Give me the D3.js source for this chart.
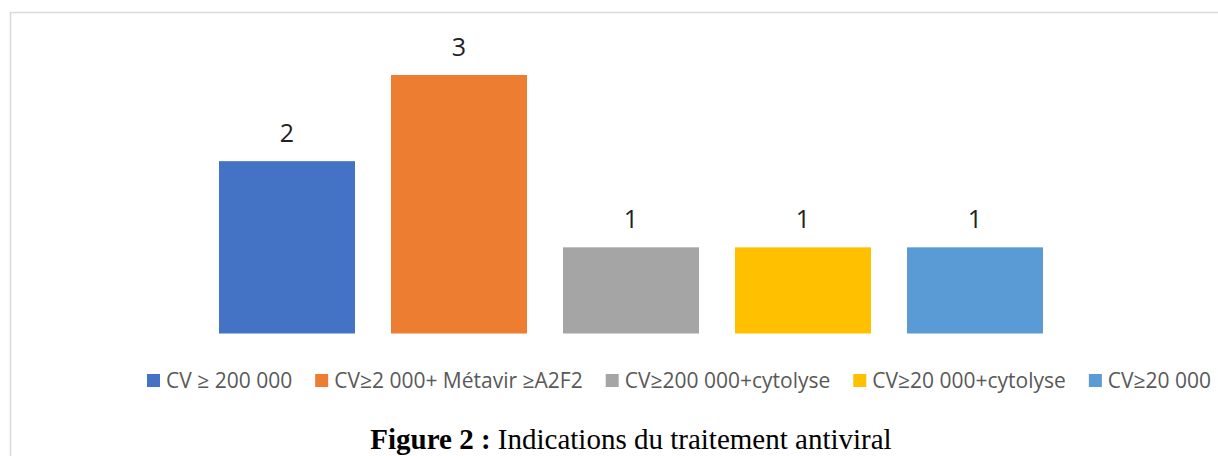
<!DOCTYPE html>
<html>
<head>
<meta charset="utf-8">
<script src="https://cdn.jsdelivr.net/npm/d3@7"></script>
<style>
  body { margin: 0; background: #fff; }
  svg { display: block; }
</style>
</head>
<body>
<svg id="chart" width="1218" height="456"></svg>
<script>
// chart data
const categories = ["CV ≥ 200 000", "CV≥2 000+ Métavir ≥A2F2", "CV≥200 000+cytolyse", "CV≥20 000+cytolyse", "CV≥20 000"];
const counts = [2, 3, 1, 1, 1];
const colors = ["#4472c4", "#ed7d31", "#a5a5a5", "#ffc000", "#5b9bd5"];

const svg = d3.select("#chart");

// light frame round the chart area (right and bottom are cut off)
svg.append("rect")
  .attr("x", 10.5).attr("y", 12.5)
  .attr("width", 1400).attr("height", 600)
  .attr("fill", "none")
  .attr("stroke", "#d9d9d9")
  .attr("stroke-width", 1.5);

const x = d3.scaleBand()
  .domain(categories)
  .range([201, 1061])
  .paddingInner(36 / 172)
  .paddingOuter(18 / 172);

const y = d3.scaleLinear()
  .domain([0, 3])
  .range([333.5, 75]);

// bars
svg.selectAll(".bar")
  .data(categories)
  .enter()
  .append("rect")
    .attr("class", "bar")
    .attr("x", d => x(d))
    .attr("width", x.bandwidth())
    .attr("y", (d, i) => y(counts[i]))
    .attr("height", (d, i) => y(0) - y(counts[i]))
    .attr("fill", (d, i) => colors[i]);

// value labels
svg.selectAll(".lbl")
  .data(categories)
  .enter()
  .append("text")
    .attr("class", "lbl")
    .attr("x", d => x(d) + x.bandwidth() / 2)
    .attr("y", (d, i) => y(counts[i]) - 19)
    .attr("text-anchor", "middle")
    .attr("font-family", "Open Sans")
    .attr("font-size", 25)
    .attr("fill", "#222")
    .text((d, i) => counts[i]);

// legend, laid out left to right
const legend = svg.append("g").attr("transform", "translate(147,0)");
let lx = 0;
categories.forEach((c, i) => {
  const g = legend.append("g").attr("transform", "translate(" + lx + ",0)");
  g.append("rect")
    .attr("x", 0).attr("y", 374)
    .attr("width", 13).attr("height", 13)
    .attr("fill", colors[i]);
  const t = g.append("text")
    .attr("x", 19).attr("y", 388)
    .attr("font-family", "Open Sans")
    .attr("font-size", 21)
    .attr("fill", "#595959")
    .text(c);
  lx += 19 + t.node().getComputedTextLength() + 23;
});

// caption below the chart
const cx = (x.range()[0] + x.range()[1]) / 2;
const cap = svg.append("text")
  .attr("x", cx)
  .attr("y", 449)
  .attr("text-anchor", "middle")
  .attr("font-family", "Liberation Serif")
  .attr("font-size", 29)
  .attr("fill", "#000");
cap.append("tspan").attr("font-weight", "bold").text("Figure 2 :");
cap.append("tspan").text(" Indications du traitement antiviral");
</script>
</body>
</html>
